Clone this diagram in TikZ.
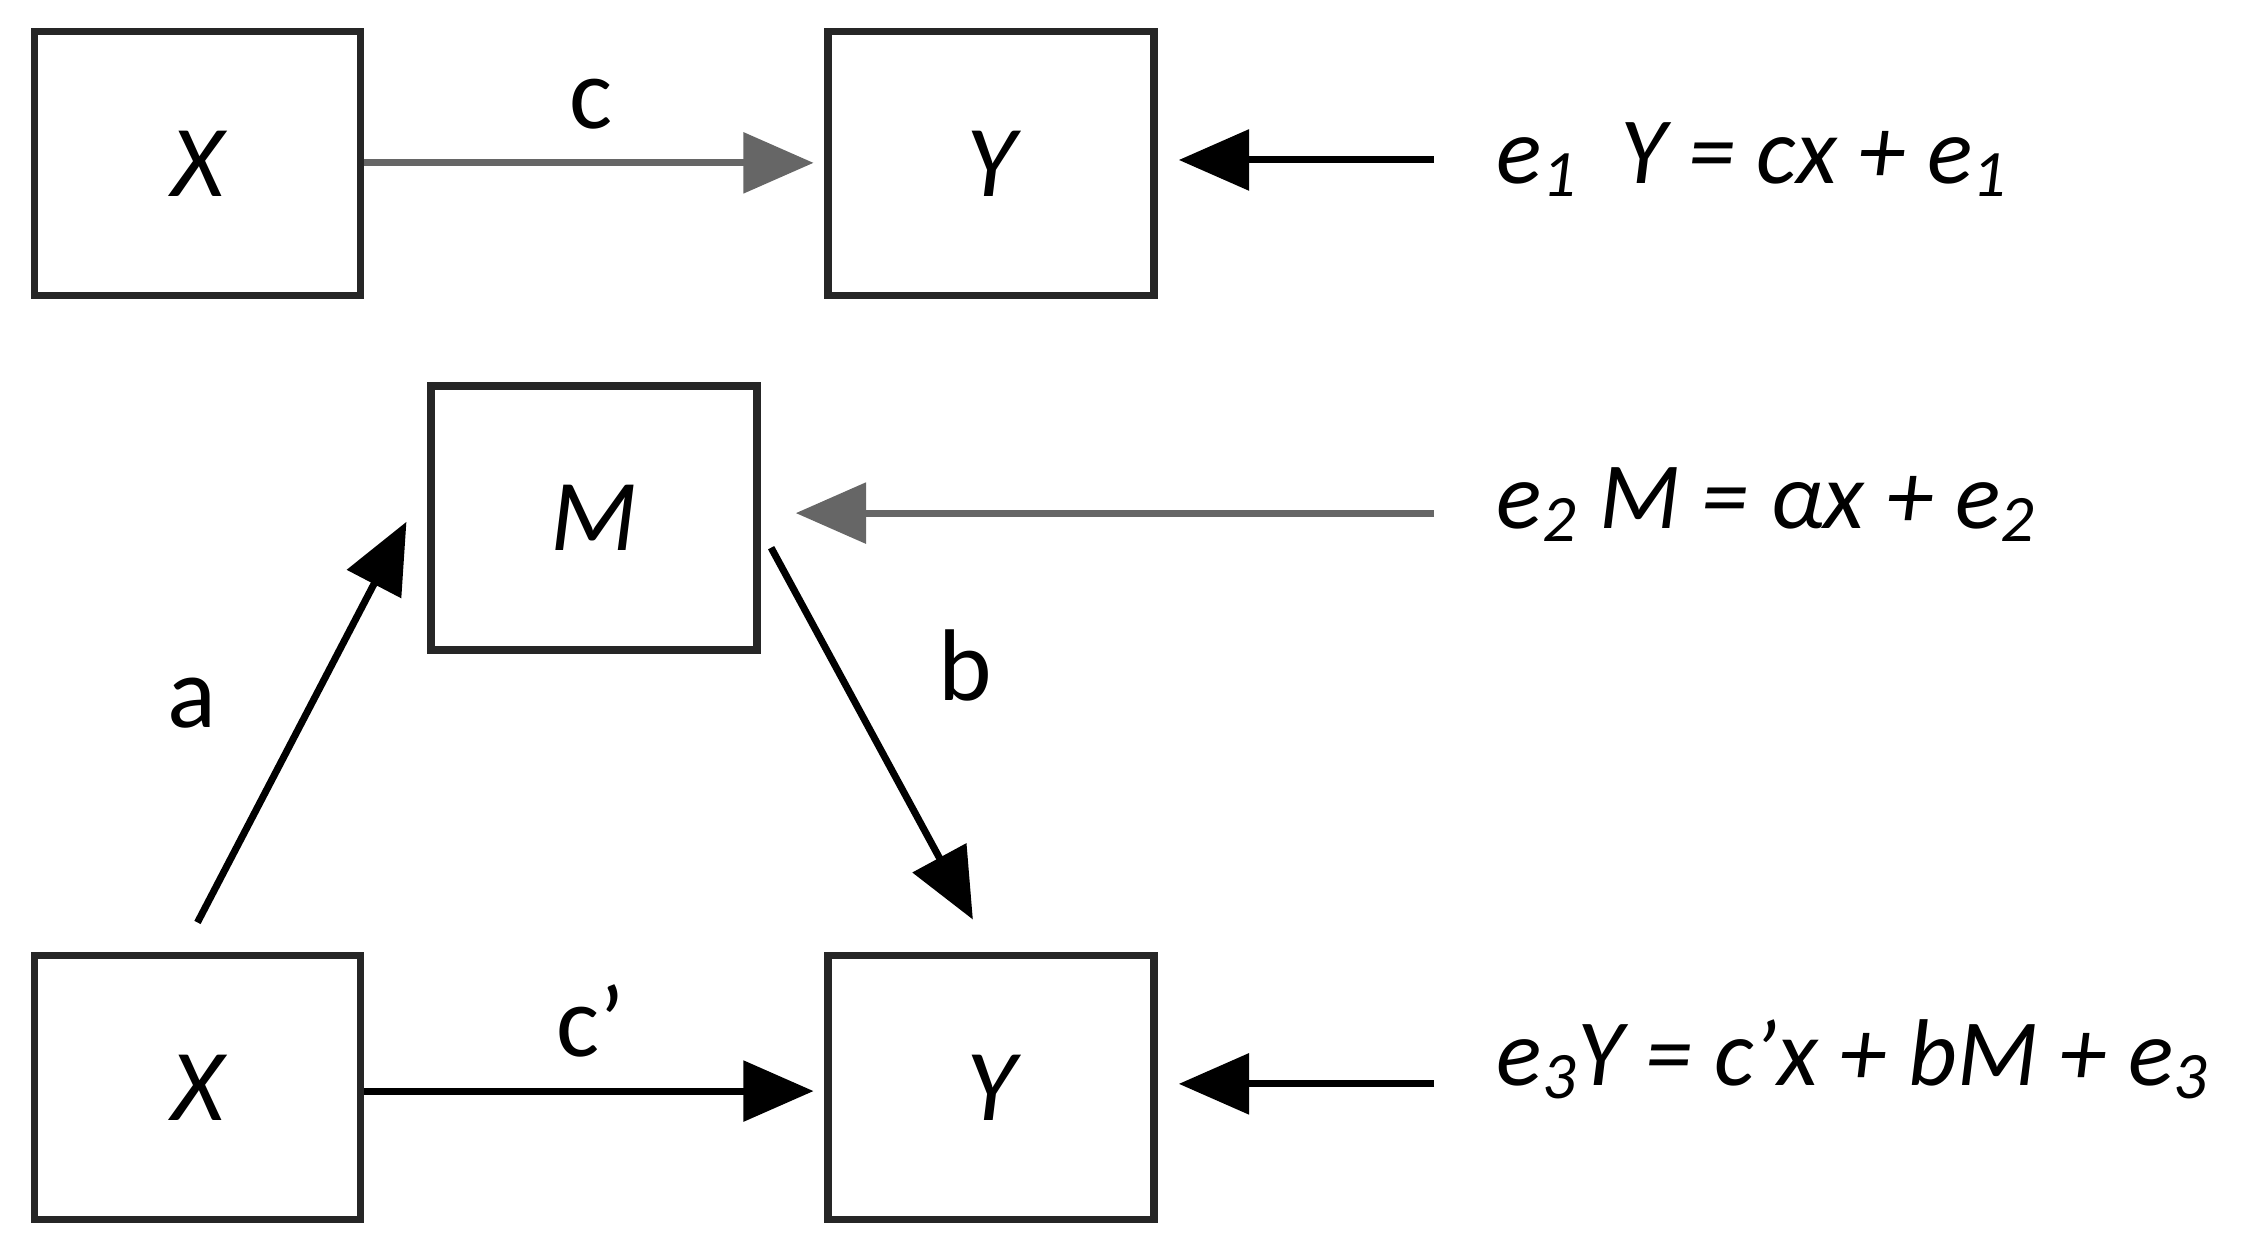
\documentclass[tikz,border=0pt]{standalone}
\usepackage{fontspec}
\setmainfont{Carlito}
\usetikzlibrary{arrows.meta}
\begin{document}
\begin{tikzpicture}[x=0.014413cm,y=-0.014413cm,
  arr/.style={line width=2pt,-{Triangle[length=20pt,width=17pt]}},
  garr/.style={arr,draw=black!60},
  lab/.style={font=\fontsize{29}{34}\selectfont},
  eq/.style={font=\fontsize{27}{32}\selectfont\itshape,anchor=west}]
\useasboundingbox (0,0) rectangle (1568,871);
\tikzset{b/.style={draw=black!85,line width=2.2pt,minimum width=3.26cm,minimum height=2.64cm,lab}}
\node[b] (x1) at (137,113.5) {\itshape X};
\node[b] (y1) at (687.5,113.5) {\itshape Y};
\node[b] (m) at (412,359.5) {\itshape M};
\node[b] (x2) at (137,754.5) {\itshape X};
\node[b] (y2) at (687.5,754.5) {\itshape Y};
\coordinate (e1) at (995,111);
\coordinate (e2) at (995,356);
\coordinate (e3) at (995,752);
\coordinate (ys) at (137,640);
\coordinate (ye) at (282,362);
\coordinate (bs) at (535,380);
\coordinate (be) at (675,638);
\draw[garr,shorten >=3pt] (x1.east |- 0,113) -- (y1.west |- 0,113);
\node[lab] (c) at (410,72) {c};
\draw[arr,shorten >=6pt] (e1) -- (y1.east |- e1);
\node[eq] (t1) at (1030,111) {e\textsubscript{1}\ \ Y = cx + e\textsubscript{1}};
\draw[garr,shorten >=10pt] (e2) -- (m.east |- e2);
\node[eq] (t2) at (1030,350) {e\textsubscript{2} M = αx + e\textsubscript{2}};
\draw[arr] (ys) -- (ye);
\node[lab] (a) at (133,488) {a};
\draw[arr] (bs) -- (be);
\node[lab] (b) at (670,462) {b};
\draw[arr,shorten >=3pt] (x2.east |- 0,757) -- (y2.west |- 0,757);
\node[lab] (c2) at (410,708) {c’};
\draw[arr,shorten >=6pt] (e3) -- (y2.east |- e3);
\node[eq] (t3) at (1030,735) {e\textsubscript{3}Y = c’x + bM + e\textsubscript{3}};
\end{tikzpicture}
\end{document}
